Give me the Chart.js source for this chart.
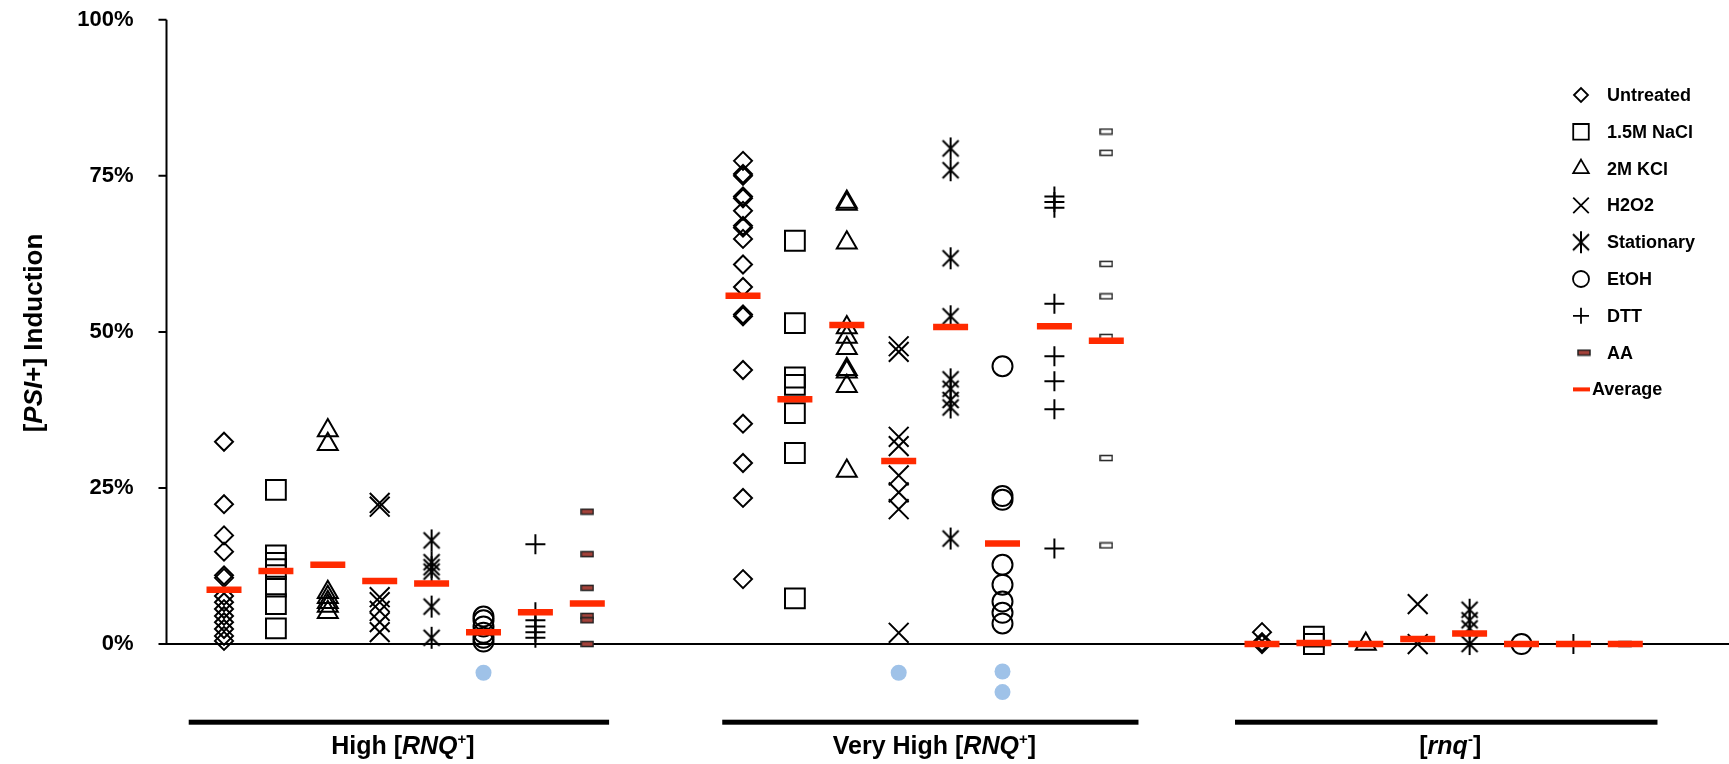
<!DOCTYPE html>
<html>
<head>
<meta charset="UTF-8">
<title>[PSI+] induction</title>
<script src="https://cdn.jsdelivr.net/npm/chart.js"></script>
<style>
  html, body { margin: 0; padding: 0; background: #fff; overflow: hidden; }
  canvas { display: block; }
</style>
</head>
<body>
<canvas id="psiChart" width="1729" height="764"></canvas>
<script>
// strain groups along the x axis, each with the same 8 treatments
const groups = ['High', 'Very High', 'rnq'];
const treatments = ['Untreated', '1.5M NaCl', '2M KCl', 'H2O2', 'Stationary', 'EtOH', 'DTT', 'AA'];

// % [PSI+] induction, one inner list per group: High [RNQ+], Very High [RNQ+], [rnq-]
const untreated = [
    [32.4, 22.4, 17.4, 14.8, 11.0, 10.6, 7.7, 6.7, 5.6, 4.5, 3.5, 2.4, 1.3, 0.5],
    [77.4, 75.3, 75.0, 71.7, 71.4, 69.4, 67.0, 66.7, 64.9, 60.8, 57.2, 52.8, 52.5, 43.9, 35.3, 29.0, 23.4, 10.4],
    [1.9, 0.3, 0]
];
const nacl = [
    [24.7, 14.2, 13.0, 12.0, 9.2, 6.4, 2.5],
    [64.6, 51.4, 42.7, 41.5, 37.0, 30.6, 7.3],
    [1.2, 0]
];
const kcl = [
    [34.2, 32.0, 8.3, 7.5, 6.7, 6.1, 5.1],
    [70.8, 70.5, 64.3, 50.7, 49.2, 47.4, 44.0, 43.6, 41.3, 27.7],
    [0]
];
const h2o2 = [
    [22.6, 22.0, 7.5, 6.7, 5.3, 3.5, 1.9],
    [47.7, 46.8, 33.2, 31.7, 27.0, 24.3, 21.6, 1.8],
    [6.4, 0]
];
const stationary = [
    [16.6, 13.1, 12.3, 11.6, 6.0, 1.0],
    [79.4, 75.9, 61.8, 52.5, 42.4, 40.9, 39.1, 37.9, 16.9],
    [5.5, 3.8, 2.5, 0]
];
const etoh = [
    [4.4, 3.8, 2.8, 1.8, 1.0, 0.4],
    [44.5, 23.7, 23.1, 12.7, 9.5, 6.8, 5.0, 3.3],
    [0]
];
const dtt = [
    [16.0, 5.1, 3.8, 2.8, 1.9, 1.0],
    [71.7, 70.8, 69.9, 54.5, 46.1, 42.1, 37.6, 15.3],
    [0]
];
const aa = [
    [21.2, 14.4, 9.0, 4.5, 3.8, 0],
    [82.1, 78.7, 60.9, 55.7, 49.2, 29.8, 15.8],
    [0]
];
// group averages, in treatment order
const averages = [
    [8.7, 11.7, 12.7, 10.1, 9.7, 1.9, 5.1, 6.5],
    [55.8, 39.2, 51.1, 29.3, 50.8, 16.1, 50.9, 48.6],
    [0, 0.15, 0, 0.8, 1.7, 0, 0, 0]
];
// the light blue dots below the axis
const blueGroup = [0, 1, 1, 1];
const blueTreatment = [5, 3, 5, 5];
const blueValues = [-4.6, -4.6, -4.4, -7.7];

const yTicks = [0, 25, 50, 75, 100];

const FONT = '"Liberation Sans", Arial, Helvetica, sans-serif';
const RED = '#ff2a00';

function makeAsterisk() {
    const c = document.createElement('canvas');
    c.width = 24; c.height = 24;
    const g = c.getContext('2d');
    g.strokeStyle = '#000';
    g.lineWidth = 2;
    g.beginPath();
    g.moveTo(12, 1); g.lineTo(12, 23);
    g.moveTo(4, 4); g.lineTo(20, 20);
    g.moveTo(20, 4); g.lineTo(4, 20);
    g.stroke();
    return c;
}
function makeDash(fill) {
    const c = document.createElement('canvas');
    c.width = 14; c.height = 8;
    const g = c.getContext('2d');
    g.fillStyle = fill;
    g.strokeStyle = '#222';
    g.lineWidth = 1.5;
    g.fillRect(1, 1.5, 12, 5);
    g.strokeRect(1, 1.5, 12, 5);
    return c;
}
const asterisk = makeAsterisk();
const aaDark = makeDash('#a5423a');
const aaLight = makeDash('#ffffff');

const series = [untreated, nacl, kcl, h2o2, stationary, etoh, dtt, aa];
const styles = [
    { pointStyle: 'rectRot', radius: 9, legendRadius: 7 },
    { pointStyle: 'rect', radius: 14, legendRadius: 11 },
    { pointStyle: 'triangle', radius: 11.5, legendRadius: 9 },
    { pointStyle: 'crossRot', radius: 14, legendRadius: 11 },
    { pointStyle: asterisk, radius: 12, legendRadius: 12 },
    { pointStyle: 'circle', radius: 10, legendRadius: 8 },
    { pointStyle: 'cross', radius: 10, legendRadius: 8 },
    { pointStyle: c => (c.raw && c.raw.x < 10 ? aaDark : aaLight), radius: 6, legendRadius: 6, legendStyle: aaDark }
];

function toPoints(lists, t) {
    return lists.flatMap((vals, g) => vals.map(v => ({ x: g * 10 + t, y: v })));
}

const datasets = [{
    label: 'Average',
    order: 0,
    data: averages.flatMap((vals, g) => vals.map((v, t) => ({ x: g * 10 + t, y: v }))),
    pointStyle: 'line',
    pointRadius: 17.5,
    pointBorderWidth: 6.5,
    pointBorderColor: RED,
    pointBackgroundColor: RED
}, {
    label: 'blue',
    order: 1,
    data: blueValues.map((v, i) => ({ x: blueGroup[i] * 10 + blueTreatment[i], y: v })),
    pointStyle: 'circle',
    pointRadius: 8,
    pointBorderWidth: 0,
    pointBackgroundColor: '#9fc2e8'
}];
series.forEach((lists, t) => {
    datasets.push({
        label: treatments[t],
        order: 2,
        data: toPoints(lists, t),
        pointStyle: styles[t].pointStyle,
        pointRadius: styles[t].radius,
        pointBorderWidth: 2,
        pointBorderColor: '#000',
        pointBackgroundColor: 'rgba(0,0,0,0)'
    });
});

function drawRich(ctx, parts, cx, y, size) {
    const fontFor = p => (p[1] ? 'italic ' : '') + 'bold ' + (p[2] ? Math.round(size * 0.6) : size) + 'px ' + FONT;
    let total = 0;
    parts.forEach(p => { ctx.font = fontFor(p); total += ctx.measureText(p[0]).width; });
    let x = cx - total / 2;
    ctx.textAlign = 'left';
    ctx.textBaseline = 'alphabetic';
    parts.forEach(p => {
        ctx.font = fontFor(p);
        ctx.fillText(p[0], x, p[2] ? y - size * 0.42 : y);
        x += ctx.measureText(p[0]).width;
    });
}

const groupLabels = [
    [['High [', 0, 0], ['RNQ', 1, 0], ['+', 0, 1], [']', 0, 0]],
    [['Very High [', 0, 0], ['RNQ', 1, 0], ['+', 0, 1], [']', 0, 0]],
    [['[', 0, 0], ['rnq', 1, 0], ['-', 0, 1], [']', 0, 0]]
];
const barSpan = [[-0.68, 7.42], [-0.4, 7.62], [-0.52, 7.62]];

const framePlugin = {
    id: 'frame',
    beforeDatasetsDraw(chart) {
        const { ctx, chartArea, scales: { y } } = chart;
        ctx.save();
        ctx.strokeStyle = '#000';
        ctx.lineWidth = 2;
        ctx.beginPath();
        ctx.moveTo(chartArea.left, y.getPixelForValue(100));
        ctx.lineTo(chartArea.left, y.getPixelForValue(0));
        ctx.lineTo(chartArea.right, y.getPixelForValue(0));
        yTicks.forEach(v => {
            const py = y.getPixelForValue(v);
            ctx.moveTo(chartArea.left - 8, py);
            ctx.lineTo(chartArea.left, py);
        });
        ctx.stroke();
        ctx.restore();
    },
    afterDraw(chart) {
        const { ctx, chartArea, scales: { x } } = chart;
        ctx.save();
        ctx.fillStyle = '#000';
        groups.forEach((g, i) => {
            const x0 = x.getPixelForValue(i * 10 + barSpan[i][0]);
            const x1 = x.getPixelForValue(i * 10 + barSpan[i][1]);
            ctx.fillRect(x0, chartArea.bottom + 19.5, x1 - x0, 5);
            drawRich(ctx, groupLabels[i], (x0 + x1) / 2 + 4, chartArea.bottom + 54, 25);
        });
        // y axis title
        ctx.translate(33, 333);
        ctx.rotate(-Math.PI / 2);
        drawRich(ctx, [['[', 0, 0], ['PSI', 1, 0], ['+] Induction', 0, 0]], 0, 9, 26);
        ctx.restore();

        // legend
        ctx.save();
        const lx = 1581, tx = 1607, ly0 = 95, step = 36.8;
        styles.forEach((s, i) => {
            ctx.lineWidth = 1.8;
            ctx.strokeStyle = '#000';
            ctx.fillStyle = 'rgba(0,0,0,0)';
            const st = s.legendStyle || s.pointStyle;
            Chart.helpers.drawPoint(ctx, { pointStyle: st, radius: s.legendRadius, borderWidth: 1.8, rotation: 0 },
                i === 7 ? lx + 3 : lx, ly0 + i * step);
        });
        ctx.fillStyle = RED;
        ctx.fillRect(1573, ly0 + 8 * step - 2, 17, 4);
        ctx.fillStyle = '#000';
        ctx.font = 'bold 18px ' + FONT;
        ctx.textAlign = 'left';
        ctx.textBaseline = 'middle';
        treatments.forEach((t, i) => ctx.fillText(t, tx, ly0 + i * step + 1));
        ctx.fillText('Average', 1592, ly0 + 8 * step + 1);
        ctx.restore();
    }
};

new Chart(document.getElementById('psiChart'), {
    type: 'scatter',
    data: { datasets },
    options: {
        responsive: false,
        animation: false,
        events: [],
        layout: { autoPadding: false, padding: { top: 19.8, bottom: 63.8, left: 0, right: 0 } },
        plugins: { legend: { display: false }, tooltip: { enabled: false } },
        scales: {
            x: { type: 'linear', min: -1.108, max: 28.998, display: false },
            y: {
                min: -9,
                max: 100,
                afterBuildTicks: s => { s.ticks = yTicks.map(v => ({ value: v })); },
                afterFit: s => { s.width = 166.5; },
                border: { display: false },
                // tick marks are drawn by the frame plugin; the long transparent tick only spaces the labels
                grid: { drawOnChartArea: false, tickLength: 29, tickColor: 'rgba(0,0,0,0)', color: 'rgba(0,0,0,0)' },
                ticks: {
                    color: '#000',
                    padding: 4,
                    font: { family: FONT, size: 22, weight: 'bold' },
                    callback: v => v + '%'
                }
            }
        }
    },
    plugins: [framePlugin]
});
</script>
</body>
</html>
